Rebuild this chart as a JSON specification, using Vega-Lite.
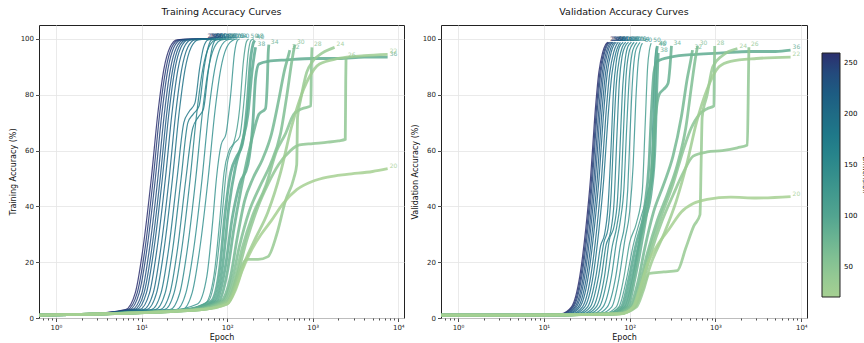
{
"$schema": "https://vega.github.io/schema/vega-lite/v6.json",
"padding": {"left": 8, "top": 6, "right": 0, "bottom": 0},
"config": {
  "font": "DejaVu Sans",
  "view": {"stroke": "#222", "strokeWidth": 1},
  "axis": {"labelFontSize": 7, "titleFontSize": 8, "titleFontWeight": "normal", "labelColor": "#222", "titleColor": "#111", "tickColor": "#222", "tickSize": 3.5, "tickWidth": 0.8, "gridColor": "#e4e4e4", "gridWidth": 0.8, "domain": false, "labelPadding": 2, "titlePadding": 3},
  "title": {"fontSize": 9.5, "fontWeight": "normal", "offset": 9, "color": "#111", "anchor": "middle"},
  "concat": {"spacing": 5}
},
"data": {"values": [
{"p":"T","d":256,"e":0.64,"a":1},{"p":"T","d":256,"e":2,"a":1.3},{"p":"T","d":256,"e":6.5,"a":3},{"p":"T","d":256,"e":8.45,"a":9},{"p":"T","d":256,"e":10.4,"a":25},{"p":"T","d":256,"e":13,"a":50},{"p":"T","d":256,"e":15.6,"a":74},{"p":"T","d":256,"e":18.2,"a":89},{"p":"T","d":256,"e":21.5,"a":97},{"p":"T","d":256,"e":26,"a":99.7},{"p":"T","d":256,"e":56,"a":100},
{"p":"T","d":240,"e":0.64,"a":1},{"p":"T","d":240,"e":2,"a":1.3},{"p":"T","d":240,"e":6.85,"a":3},{"p":"T","d":240,"e":8.9,"a":9},{"p":"T","d":240,"e":11,"a":25},{"p":"T","d":240,"e":13.7,"a":50},{"p":"T","d":240,"e":16.4,"a":74},{"p":"T","d":240,"e":19.2,"a":89},{"p":"T","d":240,"e":22.6,"a":97},{"p":"T","d":240,"e":27.4,"a":99.7},{"p":"T","d":240,"e":58,"a":100},
{"p":"T","d":224,"e":0.64,"a":1},{"p":"T","d":224,"e":2,"a":1.3},{"p":"T","d":224,"e":7.25,"a":3},{"p":"T","d":224,"e":9.4,"a":9},{"p":"T","d":224,"e":11.6,"a":25},{"p":"T","d":224,"e":14.5,"a":50},{"p":"T","d":224,"e":17.4,"a":74},{"p":"T","d":224,"e":20.3,"a":89},{"p":"T","d":224,"e":23.9,"a":97},{"p":"T","d":224,"e":29,"a":99.7},{"p":"T","d":224,"e":60,"a":100},
{"p":"T","d":208,"e":0.64,"a":1},{"p":"T","d":208,"e":2,"a":1.3},{"p":"T","d":208,"e":7.75,"a":3},{"p":"T","d":208,"e":10.1,"a":9},{"p":"T","d":208,"e":12.4,"a":25},{"p":"T","d":208,"e":15.5,"a":50},{"p":"T","d":208,"e":18.6,"a":74},{"p":"T","d":208,"e":21.7,"a":89},{"p":"T","d":208,"e":25.6,"a":97},{"p":"T","d":208,"e":31,"a":99.7},{"p":"T","d":208,"e":62,"a":100},
{"p":"T","d":192,"e":0.64,"a":1},{"p":"T","d":192,"e":2,"a":1.3},{"p":"T","d":192,"e":8.25,"a":3},{"p":"T","d":192,"e":10.7,"a":9},{"p":"T","d":192,"e":13.2,"a":25},{"p":"T","d":192,"e":16.5,"a":50},{"p":"T","d":192,"e":19.8,"a":74},{"p":"T","d":192,"e":23.1,"a":89},{"p":"T","d":192,"e":27.2,"a":97},{"p":"T","d":192,"e":33,"a":99.7},{"p":"T","d":192,"e":64,"a":100},
{"p":"T","d":176,"e":0.64,"a":1},{"p":"T","d":176,"e":2,"a":1.3},{"p":"T","d":176,"e":8.75,"a":3},{"p":"T","d":176,"e":11.4,"a":9},{"p":"T","d":176,"e":14,"a":25},{"p":"T","d":176,"e":17.5,"a":50},{"p":"T","d":176,"e":21,"a":74},{"p":"T","d":176,"e":24.5,"a":89},{"p":"T","d":176,"e":28.9,"a":97},{"p":"T","d":176,"e":35,"a":99.7},{"p":"T","d":176,"e":67,"a":100},
{"p":"T","d":160,"e":0.64,"a":1},{"p":"T","d":160,"e":2,"a":1.3},{"p":"T","d":160,"e":9.5,"a":3},{"p":"T","d":160,"e":12.4,"a":9},{"p":"T","d":160,"e":15.2,"a":25},{"p":"T","d":160,"e":19,"a":50},{"p":"T","d":160,"e":22.8,"a":74},{"p":"T","d":160,"e":26.6,"a":89},{"p":"T","d":160,"e":31.4,"a":97},{"p":"T","d":160,"e":38,"a":99.7},{"p":"T","d":160,"e":70,"a":100},
{"p":"T","d":144,"e":0.64,"a":1},{"p":"T","d":144,"e":2,"a":1.3},{"p":"T","d":144,"e":10.5,"a":3},{"p":"T","d":144,"e":13.7,"a":9},{"p":"T","d":144,"e":16.8,"a":25},{"p":"T","d":144,"e":21,"a":50},{"p":"T","d":144,"e":25.2,"a":74},{"p":"T","d":144,"e":29.4,"a":89},{"p":"T","d":144,"e":34.7,"a":97},{"p":"T","d":144,"e":42,"a":99.7},{"p":"T","d":144,"e":74,"a":100},
{"p":"T","d":128,"e":0.64,"a":1},{"p":"T","d":128,"e":2,"a":1.3},{"p":"T","d":128,"e":11.5,"a":3},{"p":"T","d":128,"e":15,"a":9},{"p":"T","d":128,"e":18.4,"a":25},{"p":"T","d":128,"e":23,"a":50},{"p":"T","d":128,"e":27.6,"a":74},{"p":"T","d":128,"e":32.2,"a":89},{"p":"T","d":128,"e":38,"a":97},{"p":"T","d":128,"e":46,"a":99.7},{"p":"T","d":128,"e":78,"a":100},
{"p":"T","d":112,"e":0.64,"a":1},{"p":"T","d":112,"e":2,"a":1.3},{"p":"T","d":112,"e":13,"a":3},{"p":"T","d":112,"e":16.9,"a":9},{"p":"T","d":112,"e":20.8,"a":25},{"p":"T","d":112,"e":26,"a":50},{"p":"T","d":112,"e":31.2,"a":70},{"p":"T","d":112,"e":36,"a":74},{"p":"T","d":112,"e":42,"a":77},{"p":"T","d":112,"e":48,"a":90},{"p":"T","d":112,"e":53,"a":97},{"p":"T","d":112,"e":60,"a":99.7},{"p":"T","d":112,"e":84,"a":100},
{"p":"T","d":100,"e":0.64,"a":1},{"p":"T","d":100,"e":2,"a":1.3},{"p":"T","d":100,"e":14.5,"a":3},{"p":"T","d":100,"e":18.9,"a":9},{"p":"T","d":100,"e":23.2,"a":25},{"p":"T","d":100,"e":29,"a":50},{"p":"T","d":100,"e":34.8,"a":70},{"p":"T","d":100,"e":40,"a":73},{"p":"T","d":100,"e":47,"a":76},{"p":"T","d":100,"e":54,"a":90},{"p":"T","d":100,"e":60,"a":97},{"p":"T","d":100,"e":66,"a":99.7},{"p":"T","d":100,"e":90,"a":100},
{"p":"T","d":96,"e":0.64,"a":1},{"p":"T","d":96,"e":2,"a":1.3},{"p":"T","d":96,"e":16.5,"a":3},{"p":"T","d":96,"e":21.5,"a":9},{"p":"T","d":96,"e":26.4,"a":25},{"p":"T","d":96,"e":33,"a":50},{"p":"T","d":96,"e":39.6,"a":68},{"p":"T","d":96,"e":46,"a":72},{"p":"T","d":96,"e":53,"a":75},{"p":"T","d":96,"e":60,"a":88},{"p":"T","d":96,"e":67,"a":97},{"p":"T","d":96,"e":74,"a":99.7},{"p":"T","d":96,"e":97,"a":100},
{"p":"T","d":90,"e":0.64,"a":1},{"p":"T","d":90,"e":2,"a":1.3},{"p":"T","d":90,"e":18.5,"a":3},{"p":"T","d":90,"e":24,"a":9},{"p":"T","d":90,"e":29.6,"a":25},{"p":"T","d":90,"e":37,"a":50},{"p":"T","d":90,"e":44.4,"a":74},{"p":"T","d":90,"e":51.8,"a":89},{"p":"T","d":90,"e":61,"a":97},{"p":"T","d":90,"e":74,"a":99.7},{"p":"T","d":90,"e":105,"a":100},
{"p":"T","d":80,"e":0.64,"a":1},{"p":"T","d":80,"e":2,"a":1.3},{"p":"T","d":80,"e":21.5,"a":3},{"p":"T","d":80,"e":28,"a":9},{"p":"T","d":80,"e":34.4,"a":25},{"p":"T","d":80,"e":43,"a":50},{"p":"T","d":80,"e":51.6,"a":74},{"p":"T","d":80,"e":60.2,"a":89},{"p":"T","d":80,"e":71,"a":97},{"p":"T","d":80,"e":86,"a":99.7},{"p":"T","d":80,"e":113,"a":100},
{"p":"T","d":70,"e":0.64,"a":1},{"p":"T","d":70,"e":2,"a":1.3},{"p":"T","d":70,"e":25.5,"a":3},{"p":"T","d":70,"e":33,"a":9},{"p":"T","d":70,"e":40.8,"a":25},{"p":"T","d":70,"e":51,"a":50},{"p":"T","d":70,"e":61,"a":74},{"p":"T","d":70,"e":71.4,"a":89},{"p":"T","d":70,"e":84,"a":97},{"p":"T","d":70,"e":102,"a":99.7},{"p":"T","d":70,"e":122,"a":100},
{"p":"T","d":64,"e":0.64,"a":1},{"p":"T","d":64,"e":2,"a":1.3},{"p":"T","d":64,"e":30,"a":3},{"p":"T","d":64,"e":39,"a":9},{"p":"T","d":64,"e":48,"a":25},{"p":"T","d":64,"e":60,"a":50},{"p":"T","d":64,"e":72,"a":74},{"p":"T","d":64,"e":84,"a":89},{"p":"T","d":64,"e":99,"a":97},{"p":"T","d":64,"e":120,"a":99.7},{"p":"T","d":64,"e":132,"a":100},
{"p":"T","d":60,"e":0.64,"a":1},{"p":"T","d":60,"e":2,"a":1.3},{"p":"T","d":60,"e":20,"a":2.5},{"p":"T","d":60,"e":45,"a":5},{"p":"T","d":60,"e":58,"a":15},{"p":"T","d":60,"e":68,"a":35},{"p":"T","d":60,"e":75,"a":50},{"p":"T","d":60,"e":85,"a":62},{"p":"T","d":60,"e":97,"a":66},{"p":"T","d":60,"e":110,"a":80},{"p":"T","d":60,"e":122,"a":95},{"p":"T","d":60,"e":132,"a":99.5},{"p":"T","d":60,"e":140,"a":100},
{"p":"T","d":50,"e":0.64,"a":1},{"p":"T","d":50,"e":2,"a":1.3},{"p":"T","d":50,"e":25,"a":2.5},{"p":"T","d":50,"e":55,"a":5},{"p":"T","d":50,"e":70,"a":15},{"p":"T","d":50,"e":82,"a":35},{"p":"T","d":50,"e":92,"a":52},{"p":"T","d":50,"e":105,"a":60},{"p":"T","d":50,"e":120,"a":63},{"p":"T","d":50,"e":140,"a":75},{"p":"T","d":50,"e":155,"a":92},{"p":"T","d":50,"e":168,"a":99},{"p":"T","d":50,"e":178,"a":100},
{"p":"T","d":48,"e":0.64,"a":1},{"p":"T","d":48,"e":2,"a":1.3},{"p":"T","d":48,"e":30,"a":2.8},{"p":"T","d":48,"e":60,"a":6},{"p":"T","d":48,"e":75,"a":18},{"p":"T","d":48,"e":88,"a":38},{"p":"T","d":48,"e":100,"a":55},{"p":"T","d":48,"e":118,"a":62},{"p":"T","d":48,"e":140,"a":65},{"p":"T","d":48,"e":160,"a":80},{"p":"T","d":48,"e":178,"a":96},{"p":"T","d":48,"e":190,"a":99.5},{"p":"T","d":48,"e":205,"a":100},
{"p":"T","d":40,"e":0.64,"a":1},{"p":"T","d":40,"e":2,"a":1.3},{"p":"T","d":40,"e":30,"a":2.8},{"p":"T","d":40,"e":65,"a":6},{"p":"T","d":40,"e":82,"a":18},{"p":"T","d":40,"e":95,"a":38},{"p":"T","d":40,"e":110,"a":52},{"p":"T","d":40,"e":130,"a":58},{"p":"T","d":40,"e":150,"a":62},{"p":"T","d":40,"e":170,"a":75},{"p":"T","d":40,"e":188,"a":93},{"p":"T","d":40,"e":200,"a":98},{"p":"T","d":40,"e":210,"a":99.5},
{"p":"T","d":38,"e":0.64,"a":1},{"p":"T","d":38,"e":2,"a":1.3},{"p":"T","d":38,"e":35,"a":3},{"p":"T","d":38,"e":70,"a":6},{"p":"T","d":38,"e":88,"a":18},{"p":"T","d":38,"e":105,"a":40},{"p":"T","d":38,"e":125,"a":54},{"p":"T","d":38,"e":150,"a":63},{"p":"T","d":38,"e":175,"a":73},{"p":"T","d":38,"e":195,"a":88},{"p":"T","d":38,"e":207,"a":94},{"p":"T","d":38,"e":215,"a":97},
{"p":"T","d":36,"e":0.64,"a":1},{"p":"T","d":36,"e":2,"a":1.3},{"p":"T","d":36,"e":35,"a":3},{"p":"T","d":36,"e":75,"a":6},{"p":"T","d":36,"e":95,"a":18},{"p":"T","d":36,"e":115,"a":36},{"p":"T","d":36,"e":140,"a":48},{"p":"T","d":36,"e":175,"a":55},{"p":"T","d":36,"e":200,"a":70},{"p":"T","d":36,"e":215,"a":86},{"p":"T","d":36,"e":235,"a":91},{"p":"T","d":36,"e":300,"a":92},{"p":"T","d":36,"e":500,"a":92.5},{"p":"T","d":36,"e":1000,"a":93},{"p":"T","d":36,"e":2000,"a":93},{"p":"T","d":36,"e":4000,"a":93.5},{"p":"T","d":36,"e":7500,"a":93.5},
{"p":"T","d":34,"e":0.64,"a":1},{"p":"T","d":34,"e":2,"a":1.3},{"p":"T","d":34,"e":40,"a":3},{"p":"T","d":34,"e":80,"a":6},{"p":"T","d":34,"e":100,"a":16},{"p":"T","d":34,"e":120,"a":32},{"p":"T","d":34,"e":145,"a":46},{"p":"T","d":34,"e":175,"a":58},{"p":"T","d":34,"e":205,"a":67},{"p":"T","d":34,"e":235,"a":73},{"p":"T","d":34,"e":280,"a":75},{"p":"T","d":34,"e":295,"a":85},{"p":"T","d":34,"e":302,"a":95},{"p":"T","d":34,"e":307,"a":98},
{"p":"T","d":32,"e":0.64,"a":1},{"p":"T","d":32,"e":2,"a":1.3},{"p":"T","d":32,"e":40,"a":3},{"p":"T","d":32,"e":85,"a":6},{"p":"T","d":32,"e":110,"a":15},{"p":"T","d":32,"e":130,"a":28},{"p":"T","d":32,"e":160,"a":42},{"p":"T","d":32,"e":200,"a":50},{"p":"T","d":32,"e":260,"a":57},{"p":"T","d":32,"e":330,"a":66},{"p":"T","d":32,"e":400,"a":78},{"p":"T","d":32,"e":470,"a":89},{"p":"T","d":32,"e":520,"a":94},{"p":"T","d":32,"e":540,"a":96},
{"p":"T","d":30,"e":0.64,"a":1},{"p":"T","d":30,"e":2,"a":1.3},{"p":"T","d":30,"e":45,"a":3},{"p":"T","d":30,"e":90,"a":6},{"p":"T","d":30,"e":115,"a":14},{"p":"T","d":30,"e":140,"a":26},{"p":"T","d":30,"e":180,"a":38},{"p":"T","d":30,"e":240,"a":47},{"p":"T","d":30,"e":320,"a":55},{"p":"T","d":30,"e":420,"a":66},{"p":"T","d":30,"e":500,"a":80},{"p":"T","d":30,"e":570,"a":92},{"p":"T","d":30,"e":600,"a":96},{"p":"T","d":30,"e":620,"a":98},
{"p":"T","d":28,"e":0.64,"a":1},{"p":"T","d":28,"e":2,"a":1.3},{"p":"T","d":28,"e":45,"a":3},{"p":"T","d":28,"e":95,"a":6},{"p":"T","d":28,"e":120,"a":13},{"p":"T","d":28,"e":150,"a":25},{"p":"T","d":28,"e":200,"a":37},{"p":"T","d":28,"e":280,"a":47},{"p":"T","d":28,"e":380,"a":60},{"p":"T","d":28,"e":480,"a":66},{"p":"T","d":28,"e":600,"a":73},{"p":"T","d":28,"e":750,"a":75},{"p":"T","d":28,"e":950,"a":76},{"p":"T","d":28,"e":965,"a":90},{"p":"T","d":28,"e":980,"a":97},
{"p":"T","d":26,"e":0.64,"a":1},{"p":"T","d":26,"e":2,"a":1.3},{"p":"T","d":26,"e":50,"a":3},{"p":"T","d":26,"e":100,"a":6},{"p":"T","d":26,"e":130,"a":15},{"p":"T","d":26,"e":170,"a":28},{"p":"T","d":26,"e":230,"a":40},{"p":"T","d":26,"e":300,"a":48},{"p":"T","d":26,"e":400,"a":55},{"p":"T","d":26,"e":550,"a":60},{"p":"T","d":26,"e":700,"a":62},{"p":"T","d":26,"e":1000,"a":62.5},{"p":"T","d":26,"e":1500,"a":63},{"p":"T","d":26,"e":2000,"a":63.5},{"p":"T","d":26,"e":2400,"a":64},{"p":"T","d":26,"e":2430,"a":85},{"p":"T","d":26,"e":2450,"a":93},
{"p":"T","d":24,"e":0.64,"a":1},{"p":"T","d":24,"e":2,"a":1.3},{"p":"T","d":24,"e":50,"a":3},{"p":"T","d":24,"e":105,"a":6},{"p":"T","d":24,"e":125,"a":12},{"p":"T","d":24,"e":145,"a":18},{"p":"T","d":24,"e":170,"a":21},{"p":"T","d":24,"e":230,"a":21},{"p":"T","d":24,"e":300,"a":22},{"p":"T","d":24,"e":380,"a":30},{"p":"T","d":24,"e":480,"a":42},{"p":"T","d":24,"e":600,"a":50},{"p":"T","d":24,"e":650,"a":55},{"p":"T","d":24,"e":665,"a":72},{"p":"T","d":24,"e":720,"a":78},{"p":"T","d":24,"e":850,"a":88},{"p":"T","d":24,"e":1000,"a":92},{"p":"T","d":24,"e":1300,"a":95},{"p":"T","d":24,"e":1800,"a":97},
{"p":"T","d":22,"e":0.64,"a":1},{"p":"T","d":22,"e":2,"a":1.3},{"p":"T","d":22,"e":50,"a":3},{"p":"T","d":22,"e":100,"a":5},{"p":"T","d":22,"e":130,"a":12},{"p":"T","d":22,"e":160,"a":20},{"p":"T","d":22,"e":210,"a":28},{"p":"T","d":22,"e":300,"a":38},{"p":"T","d":22,"e":420,"a":52},{"p":"T","d":22,"e":560,"a":68},{"p":"T","d":22,"e":700,"a":78},{"p":"T","d":22,"e":900,"a":86},{"p":"T","d":22,"e":1200,"a":91},{"p":"T","d":22,"e":2000,"a":93},{"p":"T","d":22,"e":4000,"a":94},{"p":"T","d":22,"e":7500,"a":94.5},
{"p":"T","d":20,"e":0.64,"a":1},{"p":"T","d":20,"e":2,"a":1.3},{"p":"T","d":20,"e":50,"a":3},{"p":"T","d":20,"e":100,"a":5},{"p":"T","d":20,"e":125,"a":10},{"p":"T","d":20,"e":150,"a":17},{"p":"T","d":20,"e":190,"a":24},{"p":"T","d":20,"e":250,"a":30},{"p":"T","d":20,"e":330,"a":35},{"p":"T","d":20,"e":450,"a":41},{"p":"T","d":20,"e":650,"a":46},{"p":"T","d":20,"e":1000,"a":49},{"p":"T","d":20,"e":1500,"a":50.5},{"p":"T","d":20,"e":2500,"a":51.5},{"p":"T","d":20,"e":5000,"a":52.5},{"p":"T","d":20,"e":7500,"a":53.5},
{"p":"V","d":256,"e":0.64,"a":1},{"p":"V","d":256,"e":5,"a":1},{"p":"V","d":256,"e":15.75,"a":1.5},{"p":"V","d":256,"e":21,"a":4},{"p":"V","d":256,"e":26.25,"a":15},{"p":"V","d":256,"e":30.8,"a":32},{"p":"V","d":256,"e":35,"a":50},{"p":"V","d":256,"e":39.2,"a":72},{"p":"V","d":256,"e":43.75,"a":88},{"p":"V","d":256,"e":48.3,"a":95},{"p":"V","d":256,"e":52.5,"a":98},{"p":"V","d":256,"e":56,"a":98.8},
{"p":"V","d":240,"e":0.64,"a":1},{"p":"V","d":240,"e":5,"a":1},{"p":"V","d":240,"e":16.2,"a":1.5},{"p":"V","d":240,"e":21.6,"a":4},{"p":"V","d":240,"e":27,"a":15},{"p":"V","d":240,"e":31.7,"a":32},{"p":"V","d":240,"e":36,"a":50},{"p":"V","d":240,"e":40.3,"a":72},{"p":"V","d":240,"e":45,"a":88},{"p":"V","d":240,"e":49.7,"a":95},{"p":"V","d":240,"e":54,"a":98},{"p":"V","d":240,"e":58,"a":98.8},
{"p":"V","d":224,"e":0.64,"a":1},{"p":"V","d":224,"e":5,"a":1},{"p":"V","d":224,"e":16.65,"a":1.5},{"p":"V","d":224,"e":22.2,"a":4},{"p":"V","d":224,"e":27.75,"a":15},{"p":"V","d":224,"e":32.6,"a":32},{"p":"V","d":224,"e":37,"a":50},{"p":"V","d":224,"e":41.4,"a":72},{"p":"V","d":224,"e":46.25,"a":88},{"p":"V","d":224,"e":51,"a":95},{"p":"V","d":224,"e":55.5,"a":98},{"p":"V","d":224,"e":60,"a":98.8},
{"p":"V","d":208,"e":0.64,"a":1},{"p":"V","d":208,"e":5,"a":1},{"p":"V","d":208,"e":17.3,"a":1.5},{"p":"V","d":208,"e":23.1,"a":4},{"p":"V","d":208,"e":28.9,"a":15},{"p":"V","d":208,"e":33.9,"a":32},{"p":"V","d":208,"e":38.5,"a":50},{"p":"V","d":208,"e":43.1,"a":72},{"p":"V","d":208,"e":48.1,"a":88},{"p":"V","d":208,"e":53.1,"a":95},{"p":"V","d":208,"e":57.75,"a":98},{"p":"V","d":208,"e":62,"a":98.8},
{"p":"V","d":192,"e":0.64,"a":1},{"p":"V","d":192,"e":5,"a":1},{"p":"V","d":192,"e":18,"a":1.5},{"p":"V","d":192,"e":24,"a":4},{"p":"V","d":192,"e":30,"a":15},{"p":"V","d":192,"e":35.2,"a":32},{"p":"V","d":192,"e":40,"a":50},{"p":"V","d":192,"e":44.8,"a":72},{"p":"V","d":192,"e":50,"a":88},{"p":"V","d":192,"e":55.2,"a":95},{"p":"V","d":192,"e":60,"a":98},{"p":"V","d":192,"e":64,"a":98.8},
{"p":"V","d":176,"e":0.64,"a":1},{"p":"V","d":176,"e":5,"a":1},{"p":"V","d":176,"e":18.9,"a":1.5},{"p":"V","d":176,"e":25.2,"a":4},{"p":"V","d":176,"e":31.5,"a":15},{"p":"V","d":176,"e":37,"a":32},{"p":"V","d":176,"e":42,"a":50},{"p":"V","d":176,"e":47,"a":72},{"p":"V","d":176,"e":52.5,"a":88},{"p":"V","d":176,"e":58,"a":95},{"p":"V","d":176,"e":63,"a":98},{"p":"V","d":176,"e":67,"a":98.8},
{"p":"V","d":160,"e":0.64,"a":1},{"p":"V","d":160,"e":5,"a":1},{"p":"V","d":160,"e":19.8,"a":1.5},{"p":"V","d":160,"e":26.4,"a":4},{"p":"V","d":160,"e":33,"a":15},{"p":"V","d":160,"e":38.7,"a":32},{"p":"V","d":160,"e":44,"a":50},{"p":"V","d":160,"e":49.3,"a":72},{"p":"V","d":160,"e":55,"a":88},{"p":"V","d":160,"e":60.7,"a":95},{"p":"V","d":160,"e":66,"a":98},{"p":"V","d":160,"e":70,"a":98.8},
{"p":"V","d":144,"e":0.64,"a":1},{"p":"V","d":144,"e":5,"a":1},{"p":"V","d":144,"e":21.2,"a":1.5},{"p":"V","d":144,"e":28.2,"a":4},{"p":"V","d":144,"e":35.25,"a":15},{"p":"V","d":144,"e":41.4,"a":32},{"p":"V","d":144,"e":47,"a":50},{"p":"V","d":144,"e":52.6,"a":72},{"p":"V","d":144,"e":58.75,"a":88},{"p":"V","d":144,"e":64.9,"a":95},{"p":"V","d":144,"e":70.5,"a":98},{"p":"V","d":144,"e":74,"a":98.8},
{"p":"V","d":128,"e":0.64,"a":1},{"p":"V","d":128,"e":5,"a":1},{"p":"V","d":128,"e":22.5,"a":1.5},{"p":"V","d":128,"e":30,"a":4},{"p":"V","d":128,"e":37.5,"a":15},{"p":"V","d":128,"e":44,"a":32},{"p":"V","d":128,"e":50,"a":50},{"p":"V","d":128,"e":56,"a":72},{"p":"V","d":128,"e":62.5,"a":88},{"p":"V","d":128,"e":69,"a":95},{"p":"V","d":128,"e":75,"a":98},{"p":"V","d":128,"e":78,"a":98.8},
{"p":"V","d":112,"e":0.64,"a":1},{"p":"V","d":112,"e":5,"a":1},{"p":"V","d":112,"e":24.3,"a":1.5},{"p":"V","d":112,"e":32.4,"a":4},{"p":"V","d":112,"e":40.5,"a":15},{"p":"V","d":112,"e":46,"a":26},{"p":"V","d":112,"e":51,"a":30},{"p":"V","d":112,"e":56,"a":40},{"p":"V","d":112,"e":60.5,"a":60},{"p":"V","d":112,"e":65,"a":82},{"p":"V","d":112,"e":70,"a":92},{"p":"V","d":112,"e":76,"a":97},{"p":"V","d":112,"e":84,"a":98.8},
{"p":"V","d":100,"e":0.64,"a":1},{"p":"V","d":100,"e":5,"a":1},{"p":"V","d":100,"e":26,"a":1.5},{"p":"V","d":100,"e":34.8,"a":4},{"p":"V","d":100,"e":43.5,"a":15},{"p":"V","d":100,"e":50,"a":27},{"p":"V","d":100,"e":56,"a":32},{"p":"V","d":100,"e":61,"a":45},{"p":"V","d":100,"e":65,"a":65},{"p":"V","d":100,"e":70,"a":84},{"p":"V","d":100,"e":76,"a":93},{"p":"V","d":100,"e":82,"a":97},{"p":"V","d":100,"e":90,"a":98.8},
{"p":"V","d":96,"e":0.64,"a":1},{"p":"V","d":96,"e":5,"a":1},{"p":"V","d":96,"e":28.4,"a":1.5},{"p":"V","d":96,"e":37.8,"a":4},{"p":"V","d":96,"e":47,"a":15},{"p":"V","d":96,"e":53,"a":26},{"p":"V","d":96,"e":60,"a":31},{"p":"V","d":96,"e":66,"a":42},{"p":"V","d":96,"e":71,"a":65},{"p":"V","d":96,"e":76,"a":85},{"p":"V","d":96,"e":82,"a":94},{"p":"V","d":96,"e":89,"a":97.5},{"p":"V","d":96,"e":97,"a":98.8},
{"p":"V","d":90,"e":0.64,"a":1},{"p":"V","d":90,"e":5,"a":1},{"p":"V","d":90,"e":30.6,"a":1.5},{"p":"V","d":90,"e":40.8,"a":4},{"p":"V","d":90,"e":51,"a":15},{"p":"V","d":90,"e":58,"a":28},{"p":"V","d":90,"e":66,"a":33},{"p":"V","d":90,"e":72,"a":42},{"p":"V","d":90,"e":77,"a":60},{"p":"V","d":90,"e":82,"a":80},{"p":"V","d":90,"e":89,"a":93},{"p":"V","d":90,"e":96,"a":97.5},{"p":"V","d":90,"e":105,"a":98.8},
{"p":"V","d":80,"e":0.64,"a":1},{"p":"V","d":80,"e":5,"a":1},{"p":"V","d":80,"e":33.3,"a":1.5},{"p":"V","d":80,"e":44.4,"a":4},{"p":"V","d":80,"e":55.5,"a":15},{"p":"V","d":80,"e":63,"a":26},{"p":"V","d":80,"e":71,"a":33},{"p":"V","d":80,"e":79,"a":45},{"p":"V","d":80,"e":85,"a":68},{"p":"V","d":80,"e":91,"a":87},{"p":"V","d":80,"e":98,"a":95},{"p":"V","d":80,"e":105,"a":97.5},{"p":"V","d":80,"e":113,"a":98.8},
{"p":"V","d":70,"e":0.64,"a":1},{"p":"V","d":70,"e":5,"a":1},{"p":"V","d":70,"e":37,"a":1.5},{"p":"V","d":70,"e":49,"a":4},{"p":"V","d":70,"e":61.5,"a":15},{"p":"V","d":70,"e":70,"a":27},{"p":"V","d":70,"e":78,"a":35},{"p":"V","d":70,"e":86,"a":47},{"p":"V","d":70,"e":92,"a":67},{"p":"V","d":70,"e":99,"a":86},{"p":"V","d":70,"e":107,"a":95},{"p":"V","d":70,"e":114,"a":97.5},{"p":"V","d":70,"e":122,"a":98.8},
{"p":"V","d":64,"e":0.64,"a":1},{"p":"V","d":64,"e":5,"a":1},{"p":"V","d":64,"e":41,"a":1.5},{"p":"V","d":64,"e":55,"a":4},{"p":"V","d":64,"e":69,"a":15},{"p":"V","d":64,"e":78,"a":26},{"p":"V","d":64,"e":87,"a":33},{"p":"V","d":64,"e":95,"a":46},{"p":"V","d":64,"e":101,"a":66},{"p":"V","d":64,"e":108,"a":85},{"p":"V","d":64,"e":116,"a":95},{"p":"V","d":64,"e":124,"a":97.5},{"p":"V","d":64,"e":132,"a":98.8},
{"p":"V","d":60,"e":0.64,"a":1},{"p":"V","d":60,"e":5,"a":1},{"p":"V","d":60,"e":45,"a":1.5},{"p":"V","d":60,"e":62,"a":4},{"p":"V","d":60,"e":75,"a":14},{"p":"V","d":60,"e":88,"a":28},{"p":"V","d":60,"e":100,"a":38},{"p":"V","d":60,"e":110,"a":55},{"p":"V","d":60,"e":118,"a":78},{"p":"V","d":60,"e":126,"a":92},{"p":"V","d":60,"e":134,"a":97},{"p":"V","d":60,"e":141,"a":98.5},
{"p":"V","d":50,"e":0.64,"a":1},{"p":"V","d":50,"e":5,"a":1},{"p":"V","d":50,"e":50,"a":1.5},{"p":"V","d":50,"e":70,"a":4},{"p":"V","d":50,"e":85,"a":14},{"p":"V","d":50,"e":100,"a":27},{"p":"V","d":50,"e":120,"a":34},{"p":"V","d":50,"e":140,"a":45},{"p":"V","d":50,"e":152,"a":70},{"p":"V","d":50,"e":162,"a":90},{"p":"V","d":50,"e":170,"a":96},{"p":"V","d":50,"e":178,"a":98.5},
{"p":"V","d":48,"e":0.64,"a":1},{"p":"V","d":48,"e":5,"a":1},{"p":"V","d":48,"e":55,"a":1.5},{"p":"V","d":48,"e":75,"a":4},{"p":"V","d":48,"e":92,"a":14},{"p":"V","d":48,"e":110,"a":26},{"p":"V","d":48,"e":135,"a":36},{"p":"V","d":48,"e":160,"a":44},{"p":"V","d":48,"e":178,"a":52},{"p":"V","d":48,"e":188,"a":75},{"p":"V","d":48,"e":196,"a":92},{"p":"V","d":48,"e":205,"a":97},
{"p":"V","d":40,"e":0.64,"a":1},{"p":"V","d":40,"e":5,"a":1},{"p":"V","d":40,"e":55,"a":1.5},{"p":"V","d":40,"e":80,"a":4},{"p":"V","d":40,"e":98,"a":14},{"p":"V","d":40,"e":118,"a":26},{"p":"V","d":40,"e":145,"a":36},{"p":"V","d":40,"e":170,"a":45},{"p":"V","d":40,"e":188,"a":55},{"p":"V","d":40,"e":197,"a":78},{"p":"V","d":40,"e":204,"a":93},{"p":"V","d":40,"e":210,"a":97.5},
{"p":"V","d":38,"e":0.64,"a":1},{"p":"V","d":38,"e":5,"a":1},{"p":"V","d":38,"e":60,"a":1.5},{"p":"V","d":38,"e":85,"a":4},{"p":"V","d":38,"e":105,"a":14},{"p":"V","d":38,"e":125,"a":25},{"p":"V","d":38,"e":150,"a":35},{"p":"V","d":38,"e":180,"a":46},{"p":"V","d":38,"e":198,"a":62},{"p":"V","d":38,"e":207,"a":82},{"p":"V","d":38,"e":215,"a":95},
{"p":"V","d":36,"e":0.64,"a":1},{"p":"V","d":36,"e":5,"a":1},{"p":"V","d":36,"e":60,"a":1.5},{"p":"V","d":36,"e":90,"a":4},{"p":"V","d":36,"e":110,"a":14},{"p":"V","d":36,"e":130,"a":27},{"p":"V","d":36,"e":150,"a":40},{"p":"V","d":36,"e":168,"a":55},{"p":"V","d":36,"e":180,"a":75},{"p":"V","d":36,"e":192,"a":88},{"p":"V","d":36,"e":210,"a":92},{"p":"V","d":36,"e":300,"a":93.5},{"p":"V","d":36,"e":600,"a":94.5},{"p":"V","d":36,"e":1200,"a":95},{"p":"V","d":36,"e":2500,"a":95.5},{"p":"V","d":36,"e":5000,"a":95.5},{"p":"V","d":36,"e":7500,"a":96},
{"p":"V","d":34,"e":0.64,"a":1},{"p":"V","d":34,"e":5,"a":1},{"p":"V","d":34,"e":65,"a":1.5},{"p":"V","d":34,"e":95,"a":4},{"p":"V","d":34,"e":115,"a":14},{"p":"V","d":34,"e":140,"a":28},{"p":"V","d":34,"e":165,"a":42},{"p":"V","d":34,"e":185,"a":58},{"p":"V","d":34,"e":200,"a":72},{"p":"V","d":34,"e":220,"a":80},{"p":"V","d":34,"e":250,"a":82},{"p":"V","d":34,"e":280,"a":84},{"p":"V","d":34,"e":295,"a":90},{"p":"V","d":34,"e":307,"a":97.5},
{"p":"V","d":32,"e":0.64,"a":1},{"p":"V","d":32,"e":5,"a":1},{"p":"V","d":32,"e":65,"a":1.5},{"p":"V","d":32,"e":100,"a":4},{"p":"V","d":32,"e":125,"a":13},{"p":"V","d":32,"e":150,"a":25},{"p":"V","d":32,"e":190,"a":38},{"p":"V","d":32,"e":250,"a":48},{"p":"V","d":32,"e":320,"a":58},{"p":"V","d":32,"e":400,"a":72},{"p":"V","d":32,"e":470,"a":86},{"p":"V","d":32,"e":520,"a":93},{"p":"V","d":32,"e":540,"a":96},
{"p":"V","d":30,"e":0.64,"a":1},{"p":"V","d":30,"e":5,"a":1},{"p":"V","d":30,"e":70,"a":1.5},{"p":"V","d":30,"e":105,"a":4},{"p":"V","d":30,"e":130,"a":12},{"p":"V","d":30,"e":160,"a":23},{"p":"V","d":30,"e":210,"a":35},{"p":"V","d":30,"e":280,"a":45},{"p":"V","d":30,"e":360,"a":55},{"p":"V","d":30,"e":450,"a":68},{"p":"V","d":30,"e":530,"a":84},{"p":"V","d":30,"e":590,"a":94},{"p":"V","d":30,"e":620,"a":97.5},
{"p":"V","d":28,"e":0.64,"a":1},{"p":"V","d":28,"e":5,"a":1},{"p":"V","d":28,"e":70,"a":1.5},{"p":"V","d":28,"e":110,"a":4},{"p":"V","d":28,"e":135,"a":12},{"p":"V","d":28,"e":170,"a":24},{"p":"V","d":28,"e":230,"a":36},{"p":"V","d":28,"e":320,"a":48},{"p":"V","d":28,"e":420,"a":60},{"p":"V","d":28,"e":520,"a":68},{"p":"V","d":28,"e":650,"a":73},{"p":"V","d":28,"e":800,"a":75},{"p":"V","d":28,"e":960,"a":76},{"p":"V","d":28,"e":970,"a":90},{"p":"V","d":28,"e":980,"a":97.5},
{"p":"V","d":26,"e":0.64,"a":1},{"p":"V","d":26,"e":5,"a":1},{"p":"V","d":26,"e":75,"a":1.5},{"p":"V","d":26,"e":115,"a":4},{"p":"V","d":26,"e":140,"a":12},{"p":"V","d":26,"e":180,"a":24},{"p":"V","d":26,"e":240,"a":35},{"p":"V","d":26,"e":320,"a":44},{"p":"V","d":26,"e":420,"a":52},{"p":"V","d":26,"e":550,"a":58},{"p":"V","d":26,"e":800,"a":59.5},{"p":"V","d":26,"e":1200,"a":60},{"p":"V","d":26,"e":1800,"a":61},{"p":"V","d":26,"e":2350,"a":62},{"p":"V","d":26,"e":2420,"a":85},{"p":"V","d":26,"e":2450,"a":97},
{"p":"V","d":24,"e":0.64,"a":1},{"p":"V","d":24,"e":5,"a":1},{"p":"V","d":24,"e":75,"a":1.5},{"p":"V","d":24,"e":120,"a":4},{"p":"V","d":24,"e":145,"a":10},{"p":"V","d":24,"e":170,"a":16},{"p":"V","d":24,"e":250,"a":16.5},{"p":"V","d":24,"e":360,"a":17},{"p":"V","d":24,"e":450,"a":25},{"p":"V","d":24,"e":560,"a":33},{"p":"V","d":24,"e":660,"a":37},{"p":"V","d":24,"e":680,"a":55},{"p":"V","d":24,"e":700,"a":72},{"p":"V","d":24,"e":800,"a":80},{"p":"V","d":24,"e":930,"a":90},{"p":"V","d":24,"e":1200,"a":94},{"p":"V","d":24,"e":1800,"a":96.5},
{"p":"V","d":22,"e":0.64,"a":1},{"p":"V","d":22,"e":5,"a":1},{"p":"V","d":22,"e":75,"a":1.5},{"p":"V","d":22,"e":115,"a":4},{"p":"V","d":22,"e":140,"a":10},{"p":"V","d":22,"e":180,"a":20},{"p":"V","d":22,"e":250,"a":30},{"p":"V","d":22,"e":350,"a":42},{"p":"V","d":22,"e":470,"a":56},{"p":"V","d":22,"e":600,"a":70},{"p":"V","d":22,"e":800,"a":82},{"p":"V","d":22,"e":1100,"a":90},{"p":"V","d":22,"e":1500,"a":92},{"p":"V","d":22,"e":3000,"a":93},{"p":"V","d":22,"e":7500,"a":93.5},
{"p":"V","d":20,"e":0.64,"a":1},{"p":"V","d":20,"e":5,"a":1},{"p":"V","d":20,"e":80,"a":1.5},{"p":"V","d":20,"e":110,"a":4},{"p":"V","d":20,"e":130,"a":10},{"p":"V","d":20,"e":160,"a":19},{"p":"V","d":20,"e":210,"a":26},{"p":"V","d":20,"e":290,"a":32},{"p":"V","d":20,"e":400,"a":38},{"p":"V","d":20,"e":550,"a":41},{"p":"V","d":20,"e":800,"a":42.5},{"p":"V","d":20,"e":1500,"a":43.3},{"p":"V","d":20,"e":3000,"a":43},{"p":"V","d":20,"e":7500,"a":43.5}
]},
"hconcat": [
 {
  "title": "Training Accuracy Curves",
  "width": 365, "height": 293,
  "transform": [{"filter": "datum.p == 'T'"}],
  "layer": [
   {"mark": {"type": "line", "interpolate": "monotone", "opacity": 0.85, "clip": true},
    "encoding": {
     "x": {"field": "e", "type": "quantitative", "title": "Epoch",
       "scale": {"type": "log", "domain": [0.634, 11650], "nice": false},
       "axis": {"values": [0.7,0.8,0.9,1,2,3,4,5,6,7,8,9,10,20,30,40,50,60,70,80,90,100,200,300,400,500,600,700,800,900,1000,2000,3000,4000,5000,6000,7000,8000,9000,10000],
         "labelExpr": "datum.value==1?'10⁰':datum.value==10?'10¹':datum.value==100?'10²':datum.value==1000?'10³':datum.value==10000?'10⁴':''",
         "labelOverlap": false, "labelBound": false,
         "tickSize": {"condition": {"test": "indexof([1,10,100,1000,10000], datum.value) >= 0", "value": 3.5}, "value": 2},
         "gridOpacity": {"condition": {"test": "indexof([1,10,100,1000,10000], datum.value) >= 0", "value": 1}, "value": 0}}},
     "y": {"field": "a", "type": "quantitative", "title": "Training Accuracy (%)",
       "scale": {"domain": [0, 105], "nice": false},
       "axis": {"values": [0, 20, 40, 60, 80, 100]}},
     "color": {"field": "d", "type": "quantitative",
       "scale": {"domain": [20, 28, 36, 48, 64, 96, 144, 208, 256], "range": ["#a6d092", "#8ac494", "#5fac91", "#4b9f8f", "#379290", "#277e88", "#1f6a85", "#24507e", "#2b2f6e"]},
       "legend": null},
     "strokeWidth": {"field": "d", "type": "quantitative", "scale": {"type": "threshold", "domain": [45], "range": [2.8, 1.2]}, "legend": null},
     "detail": {"field": "d"}
    }},
   {"transform": [{"joinaggregate": [{"op": "max", "field": "e", "as": "me"}], "groupby": ["d"]}, {"filter": "datum.e == datum.me"}],
    "mark": {"type": "text", "fontSize": 6, "align": "left", "dx": 2, "dy": -3, "opacity": 0.85},
    "encoding": {
     "x": {"field": "e", "type": "quantitative"},
     "y": {"field": "a", "type": "quantitative"},
     "text": {"field": "d"},
     "color": {"field": "d", "type": "quantitative", "legend": null}
    }},
   {"mark": {"type": "point", "filled": true, "size": 0, "opacity": 1},
    "encoding": {
     "x": {"field": "e", "type": "quantitative"},
     "y": {"field": "a", "type": "quantitative"},
     "fill": {"field": "d", "type": "quantitative",
       "scale": {"domain": [20, 50, 100, 150, 200, 235, 260], "range": ["#a6d092", "#8cc594", "#52a490", "#2e8a8b", "#1f6b85", "#24507e", "#2b2f6e"]},
       "legend": {"type": "gradient", "orient": "none", "legendX": 783, "legendY": 28, "title": "Dimension", "titleOrient": "right", "titleAngle": 270, "titleAnchor": "middle", "titleFontSize": 7, "titleFontWeight": "normal", "gradientLength": 244, "gradientThickness": 18, "values": [50, 100, 150, 200, 250], "labelFontSize": 7, "direction": "vertical", "gradientStrokeColor": "#222", "gradientStrokeWidth": 1, "labelOffset": 4}}
    }}
  ]
 },
 {
  "title": "Validation Accuracy Curves",
  "width": 366, "height": 293,
  "transform": [{"filter": "datum.p == 'V'"}],
  "layer": [
   {"mark": {"type": "line", "interpolate": "monotone", "opacity": 0.85, "clip": true},
    "encoding": {
     "x": {"field": "e", "type": "quantitative", "title": "Epoch",
       "scale": {"type": "log", "domain": [0.634, 11650], "nice": false},
       "axis": {"values": [0.7,0.8,0.9,1,2,3,4,5,6,7,8,9,10,20,30,40,50,60,70,80,90,100,200,300,400,500,600,700,800,900,1000,2000,3000,4000,5000,6000,7000,8000,9000,10000],
         "labelExpr": "datum.value==1?'10⁰':datum.value==10?'10¹':datum.value==100?'10²':datum.value==1000?'10³':datum.value==10000?'10⁴':''",
         "labelOverlap": false, "labelBound": false,
         "tickSize": {"condition": {"test": "indexof([1,10,100,1000,10000], datum.value) >= 0", "value": 3.5}, "value": 2},
         "gridOpacity": {"condition": {"test": "indexof([1,10,100,1000,10000], datum.value) >= 0", "value": 1}, "value": 0}}},
     "y": {"field": "a", "type": "quantitative", "title": "Validation Accuracy (%)",
       "scale": {"domain": [0, 105], "nice": false},
       "axis": {"values": [0, 20, 40, 60, 80, 100]}},
     "color": {"field": "d", "type": "quantitative",
       "scale": {"domain": [20, 28, 36, 48, 64, 96, 144, 208, 256], "range": ["#a6d092", "#8ac494", "#5fac91", "#4b9f8f", "#379290", "#277e88", "#1f6a85", "#24507e", "#2b2f6e"]},
       "legend": null},
     "strokeWidth": {"field": "d", "type": "quantitative", "scale": {"type": "threshold", "domain": [45], "range": [2.8, 1.2]}, "legend": null},
     "detail": {"field": "d"}
    }},
   {"transform": [{"joinaggregate": [{"op": "max", "field": "e", "as": "me"}], "groupby": ["d"]}, {"filter": "datum.e == datum.me"}],
    "mark": {"type": "text", "fontSize": 6, "align": "left", "dx": 2, "dy": -3, "opacity": 0.85},
    "encoding": {
     "x": {"field": "e", "type": "quantitative"},
     "y": {"field": "a", "type": "quantitative"},
     "text": {"field": "d"},
     "color": {"field": "d", "type": "quantitative", "legend": null}
    }}
  ]
 }
],
"resolve": {"scale": {"color": "shared", "strokeWidth": "shared", "fill": "shared"}}
}
